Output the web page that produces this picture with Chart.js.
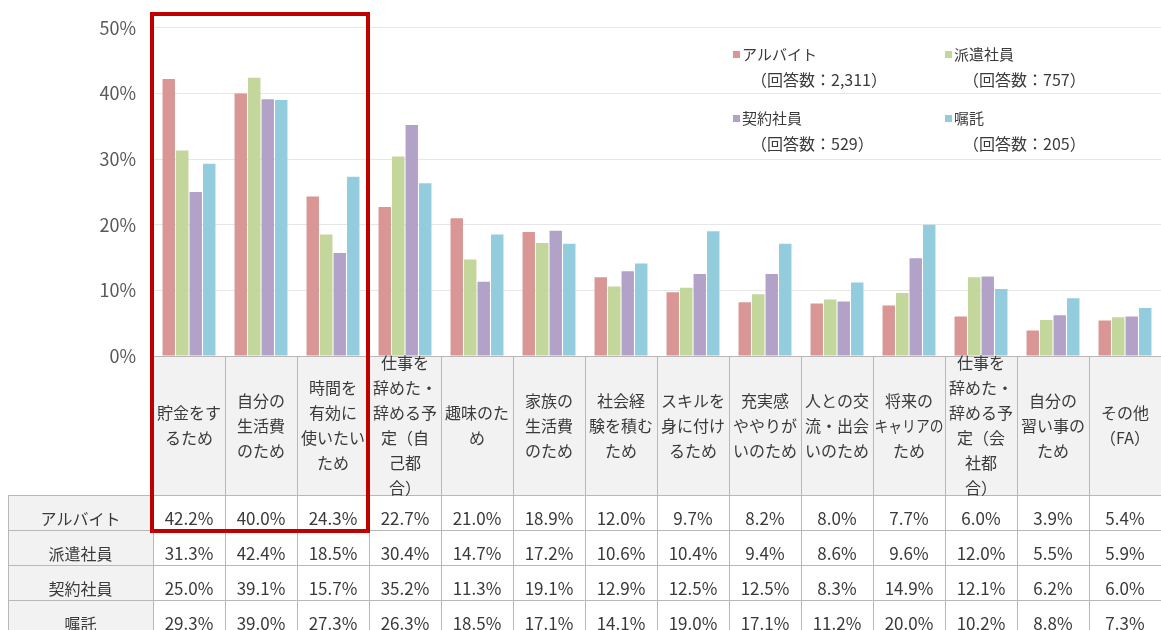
<!DOCTYPE html>
<html lang="ja">
<head>
<meta charset="utf-8">
<title>働く理由（雇用形態別）</title>
<script src="https://cdn.jsdelivr.net/npm/chart.js@4.4.1/dist/chart.umd.min.js"></script>
<style>
  html, body { margin: 0; padding: 0; background: #fff; }
  #wrap { width: 1161px; height: 630px; overflow: hidden; }
</style>
</head>
<body>
<div id="wrap"><canvas id="reasonChart" width="1161" height="630"></canvas></div>
<script>
/* 働く理由 — 雇用形態別の棒グラフ＋データ表 */
var categories = [
    ['貯金をす', 'るため'],
    ['自分の', '生活費', 'のため'],
    ['時間を', '有効に', '使いたい', 'ため'],
    ['仕事を', '辞めた・', '辞める予', '定（自', '己都', '合）'],
    ['趣味のた', 'め'],
    ['家族の', '生活費', 'のため'],
    ['社会経', '験を積む', 'ため'],
    ['スキルを', '身に付け', 'るため'],
    ['充実感', 'ややりが', 'いのため'],
    ['人との交', '流・出会', 'いのため'],
    ['将来の', 'キャリアの', 'ため'],
    ['仕事を', '辞めた・', '辞める予', '定（会', '社都', '合）'],
    ['自分の', '習い事の', 'ため'],
    ['その他', '（FA）']
];
var seriesNames = ['アルバイト', '派遣社員', '契約社員', '嘱託'];
var responseCounts = ['2,311', '757', '529', '205'];

var arbeit    = [42.2, 40.0, 24.3, 22.7, 21.0, 18.9, 12.0, 9.7, 8.2, 8.0, 7.7, 6.0, 3.9, 5.4];
var haken     = [31.3, 42.4, 18.5, 30.4, 14.7, 17.2, 10.6, 10.4, 9.4, 8.6, 9.6, 12.0, 5.5, 5.9];
var keiyaku   = [25.0, 39.1, 15.7, 35.2, 11.3, 19.1, 12.9, 12.5, 12.5, 8.3, 14.9, 12.1, 6.2, 6.0];
var shokutaku = [29.3, 39.0, 27.3, 26.3, 18.5, 17.1, 14.1, 19.0, 17.1, 11.2, 20.0, 10.2, 8.8, 7.3];

var yTicks = [0, 10, 20, 30, 40, 50];

var seriesValues = [arbeit, haken, keiyaku, shokutaku];
var seriesColors = ['#d99694', '#c3d69b', '#b3a2c7', '#93cddd'];
var FONT = "'Noto Sans CJK JP', 'Noto Sans', sans-serif";
var TEXT = '#3a3a3a';

/* 凡例（2列×2段、回答数つき） */
var legendPlugin = {
    id: 'twoLineLegend',
    afterDraw: function (chart) {
        var ctx = chart.ctx;
        var colX = [733, 945];
        var rowY = [54, 118];
        ctx.save();
        ctx.textBaseline = 'middle';
        ctx.textAlign = 'left';
        chart.data.datasets.forEach(function (ds, i) {
            var x = colX[i % 2], y = rowY[Math.floor(i / 2)];
            ctx.fillStyle = ds.backgroundColor;
            ctx.fillRect(x, y - 3, 7, 7);
            ctx.fillStyle = TEXT;
            ctx.font = '15px ' + FONT;
            ctx.fillText(ds.label, x + 9, y);
            ctx.font = '16px ' + FONT;
            ctx.fillText('（回答数：' + responseCounts[i] + '）', x + 18, y + 26);
        });
        ctx.restore();
    }
};

/* 下のデータ表（列はx軸のカテゴリ位置に合わせる） */
var tablePlugin = {
    id: 'dataTable',
    afterDraw: function (chart) {
        var ctx = chart.ctx, a = chart.chartArea, x = chart.scales.x;
        var half = (x.getPixelForValue(1) - x.getPixelForValue(0)) / 2;
        var headTop = a.bottom, headBottom = 495, rowH = 35, labelLeft = 8;
        var tableBottom = headBottom + rowH * seriesNames.length;
        var n = categories.length;
        var i, j;

        ctx.save();
        ctx.fillStyle = '#f2f2f2';
        ctx.fillRect(a.left, headTop, a.right - a.left, headBottom - headTop);
        ctx.fillRect(labelLeft, headBottom, a.left - labelLeft, tableBottom - headBottom);

        ctx.strokeStyle = '#b8b8b8';
        ctx.lineWidth = 1;
        ctx.beginPath();
        ctx.moveTo(a.left, headTop + 0.5);
        ctx.lineTo(a.right, headTop + 0.5);
        for (j = 0; j <= seriesNames.length; j++) {
            var yy = Math.round(headBottom + j * rowH) + 0.5;
            ctx.moveTo(labelLeft, yy);
            ctx.lineTo(a.right, yy);
        }
        ctx.moveTo(labelLeft + 0.5, headBottom);
        ctx.lineTo(labelLeft + 0.5, tableBottom);
        for (i = 0; i <= n; i++) {
            var xx = Math.round(x.getPixelForValue(Math.min(i, n - 1)) + (i < n ? -half : half)) + 0.5;
            ctx.moveTo(xx, headTop);
            ctx.lineTo(xx, tableBottom);
        }
        ctx.stroke();

        ctx.fillStyle = TEXT;
        ctx.textAlign = 'center';
        ctx.textBaseline = 'middle';
        ctx.font = '16px ' + FONT;
        var lh = 25, mid = (headTop + headBottom) / 2;
        categories.forEach(function (lines, c) {
            var cx = x.getPixelForValue(c);
            var y0 = mid - (lines.length - 1) * lh / 2;
            lines.forEach(function (t, k) {
                ctx.fillText(t, cx, y0 + k * lh, half * 2 - 3);
            });
        });

        seriesNames.forEach(function (name, s) {
            var ty = headBottom + s * rowH + 24;
            ctx.font = '16px ' + FONT;
            ctx.fillText(name, (labelLeft + a.left) / 2, ty);
            ctx.font = '17px ' + FONT;
            seriesValues[s].forEach(function (v, c) {
                ctx.fillText(v.toFixed(1) + '%', x.getPixelForValue(c), ty);
            });
        });

        /* 上位3項目の赤枠 */
        ctx.strokeStyle = '#c00000';
        ctx.lineWidth = 4;
        var left = x.getPixelForValue(0) - half - 1;
        var right = x.getPixelForValue(2) + half - 1;
        ctx.strokeRect(left, 14, right - left, headBottom + rowH + 1 - 14);
        ctx.restore();
    }
};

new Chart(document.getElementById('reasonChart').getContext('2d'), {
    type: 'bar',
    data: {
        labels: categories,
        datasets: seriesNames.map(function (name, i) {
            return {
                label: name,
                data: seriesValues[i],
                backgroundColor: seriesColors[i],
                borderWidth: 0,
                categoryPercentage: 0.75,
                barPercentage: 0.92
            };
        })
    },
    options: {
        responsive: false,
        animation: false,
        layout: { padding: { top: 27, right: 0, left: 0, bottom: 0 } },
        plugins: { legend: { display: false }, tooltip: { enabled: false } },
        scales: {
            x: {
                ticks: { display: false },
                grid: { display: false },
                border: { display: false },
                afterFit: function (s) { s.height = 274; }
            },
            y: {
                min: yTicks[0],
                max: yTicks[yTicks.length - 1],
                afterBuildTicks: function (s) {
                    s.ticks = yTicks.map(function (v) { return { value: v }; });
                },
                afterFit: function (s) { s.width = 153; },
                ticks: {
                    padding: 17,
                    color: '#595959',
                    font: { family: FONT, size: 18 },
                    callback: function (v) { return v + '%'; }
                },
                grid: { color: '#e6e6e6', drawTicks: false },
                border: { display: false }
            }
        }
    },
    plugins: [legendPlugin, tablePlugin]
});
</script>
</body>
</html>
